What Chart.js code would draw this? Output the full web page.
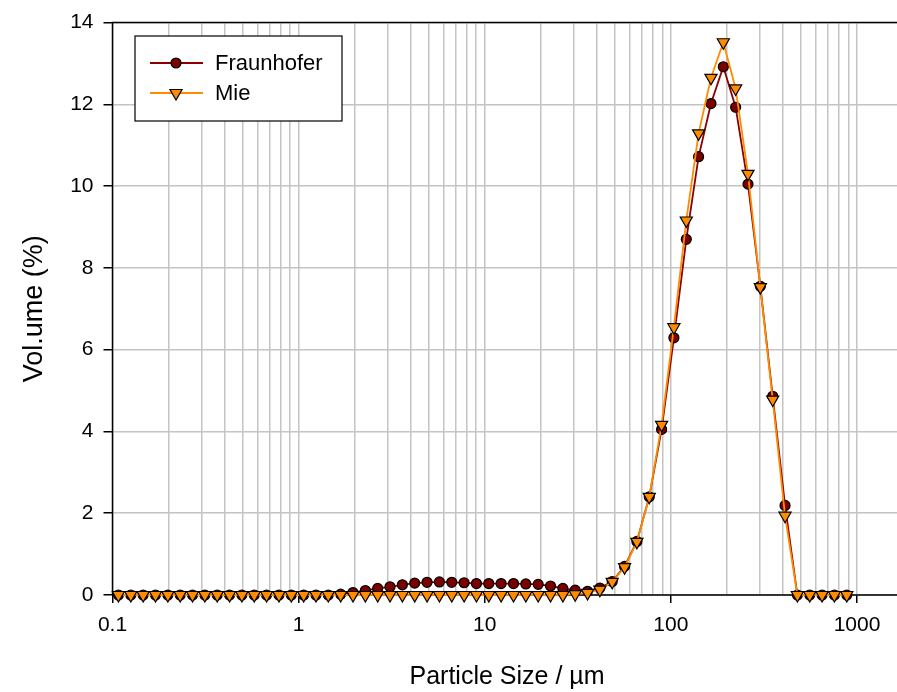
<!DOCTYPE html>
<html>
<head>
<meta charset="utf-8">
<script src="https://cdn.jsdelivr.net/npm/chart.js@4.4.0/dist/chart.umd.min.js"></script>
<style>
    body { margin: 0; background: #fff; }
    #wrap { width: 897px; height: 692px; }
</style>
</head>
<body>
<div id="wrap"><canvas id="psd" width="897" height="692"></canvas></div>
<script>
// 粒徑分佈 (µm) 與兩種光學模型的體積百分比
const sizes = [
    0.1076, 0.1254, 0.1461, 0.1702, 0.1983, 0.2310, 0.2691, 0.3134, 0.3652, 0.4254,
    0.4956, 0.5774, 0.6726, 0.7839, 0.9131, 1.064, 1.239, 1.443, 1.682, 1.959,
    2.283, 2.659, 3.097, 3.609, 4.204, 4.898, 5.706, 6.647, 7.745, 9.023,
    10.51, 12.24, 14.27, 16.62, 19.36, 22.56, 26.28, 30.61, 35.66, 41.54,
    48.39, 56.38, 65.68, 76.53, 89.15, 103.8, 121.0, 140.9, 164.2, 191.3,
    222.8, 259.6, 302.4, 352.4, 410.5, 478.2, 557.1, 649.0, 756.2, 881.0
];
const fraunhofer = [
    0, 0, 0, 0, 0, 0, 0, 0, 0, 0,
    0, 0, 0, 0, 0, 0, 0, 0, 0.02, 0.06,
    0.11, 0.16, 0.20, 0.25, 0.29, 0.31, 0.32, 0.31, 0.30, 0.28,
    0.28, 0.28, 0.28, 0.27, 0.26, 0.22, 0.16, 0.12, 0.09, 0.17,
    0.33, 0.70, 1.31, 2.40, 4.05, 6.29, 8.70, 10.72, 12.02, 12.92,
    11.93, 10.05, 7.55, 4.86, 2.19, 0, 0, 0, 0, 0
];
const mie = [
    0, 0, 0, 0, 0, 0, 0, 0, 0, 0,
    0, 0, 0, 0, 0, 0, 0, 0, 0, 0,
    0, 0, 0, 0, 0, 0, 0, 0, 0, 0,
    0, 0, 0, 0, 0, 0, 0, 0.02, 0.05, 0.13,
    0.32, 0.68, 1.30, 2.40, 4.16, 6.55, 9.16, 11.29, 12.65, 13.52,
    12.39, 10.30, 7.53, 4.78, 1.94, 0, 0, 0, 0, 0
];

// 軸刻度
const decadeTicks = [0.1, 1, 10, 100, 1000];
const xGridTicks = [
    0.1, 0.2, 0.3, 0.4, 0.5, 0.6, 0.7, 0.8, 0.9,
    1, 2, 3, 4, 5, 6, 7, 8, 9,
    10, 20, 30, 40, 50, 60, 70, 80, 90,
    100, 200, 300, 400, 500, 600, 700, 800, 900,
    1000
];
const yTicks = [0, 2, 4, 6, 8, 10, 12, 14];

const FONT = '"Liberation Sans", Arial, sans-serif';

function toPoints(values) {
    return sizes.map((s, i) => ({ x: s, y: values[i] }));
}

function isDecade(v) {
    return decadeTicks.some(d => Math.abs(d - v) < 1e-9);
}

// 圖框、軸標題、圖例
const framePlugin = {
    id: 'frame',
    beforeDatasetsDraw(chart) {
        const { ctx, chartArea: a } = chart;
        ctx.save();
        ctx.strokeStyle = '#000';
        ctx.lineWidth = 1.5;
        ctx.beginPath();
        ctx.moveTo(a.right, a.top);
        ctx.lineTo(a.left, a.top);
        ctx.lineTo(a.left, a.bottom);
        ctx.lineTo(a.right, a.bottom);
        ctx.stroke();
        ctx.restore();
    },
    afterDraw(chart) {
        const { ctx, chartArea: a } = chart;
        ctx.save();
        ctx.fillStyle = '#000';
        ctx.textAlign = 'center';
        ctx.textBaseline = 'middle';
        ctx.font = '25px ' + FONT;
        ctx.fillText('Particle Size / \u00b5m', 507, 677);

        ctx.font = '27px ' + FONT;
        ctx.translate(35, (a.top + a.bottom) / 2);
        ctx.rotate(-Math.PI / 2);
        ctx.fillText('Vol.ume (%)', 0, 0);
        ctx.restore();

        // 圖例
        ctx.save();
        const bx = 135, by = 36, bw = 207, bh = 85;
        ctx.fillStyle = '#fff';
        ctx.fillRect(bx, by, bw, bh);
        ctx.strokeStyle = '#000';
        ctx.lineWidth = 1.2;
        ctx.strokeRect(bx, by, bw, bh);

        ctx.font = '22px ' + FONT;
        ctx.textAlign = 'left';
        ctx.textBaseline = 'middle';
        chart.data.datasets.forEach((ds, i) => {
            const y = 63 + i * 30;
            ctx.strokeStyle = ds.borderColor;
            ctx.lineWidth = ds.borderWidth;
            ctx.beginPath();
            ctx.moveTo(150, y);
            ctx.lineTo(203, y);
            ctx.stroke();

            ctx.fillStyle = ds.pointBackgroundColor;
            ctx.strokeStyle = '#000';
            ctx.lineWidth = 1.2;
            ctx.beginPath();
            if (ds.pointStyle === 'circle') {
                ctx.arc(176, y, ds.pointRadius, 0, Math.PI * 2);
            } else {
                const r = ds.pointRadius;
                ctx.moveTo(176, y + r);
                ctx.lineTo(176 - r * 0.866, y - r / 2);
                ctx.lineTo(176 + r * 0.866, y - r / 2);
                ctx.closePath();
            }
            ctx.fill();
            ctx.stroke();

            ctx.fillStyle = '#000';
            ctx.fillText(ds.label, 215, y + 1);
        });
        ctx.restore();
    }
};

new Chart(document.getElementById('psd'), {
    type: 'line',
    data: {
        datasets: [{
            label: 'Fraunhofer',
            data: toPoints(fraunhofer),
            borderColor: '#8b0000',
            borderWidth: 1.8,
            pointStyle: 'circle',
            pointRadius: 5,
            pointBackgroundColor: '#7a0000',
            pointBorderColor: '#000',
            pointBorderWidth: 1.2,
            clip: false,
            order: 2
        }, {
            label: 'Mie',
            data: toPoints(mie),
            borderColor: '#ff8c00',
            borderWidth: 1.8,
            pointStyle: 'triangle',
            pointRotation: 180,
            pointRadius: 7,
            pointBackgroundColor: '#ff8c00',
            pointBorderColor: '#000',
            pointBorderWidth: 1.2,
            clip: false,
            order: 1
        }]
    },
    options: {
        responsive: false,
        animation: false,
        layout: { autoPadding: false, padding: { top: 20, right: 0, left: 0, bottom: 0 } },
        plugins: {
            legend: { display: false },
            tooltip: { enabled: false }
        },
        scales: {
            x: {
                type: 'logarithmic',
                min: 0.1,
                max: 1640,
                afterBuildTicks(scale) {
                    scale.ticks = xGridTicks.map(v => ({ value: v, major: isDecade(v) }));
                },
                afterFit(scale) {
                    scale.height = 97;
                    scale.paddingLeft = 0;
                    scale.paddingRight = 0;
                },
                ticks: {
                    autoSkip: false,
                    maxRotation: 0,
                    padding: 10,
                    color: '#000',
                    font: { family: FONT, size: 21 },
                    callback: (v) => isDecade(v) ? String(v) : ''
                },
                grid: {
                    color: '#c4c4c4',
                    lineWidth: 1.5,
                    tickLength: 8,
                    tickColor: (c) => (c.tick && isDecade(c.tick.value)) ? '#000' : 'rgba(0,0,0,0)',
                    tickWidth: 1.5
                },
                border: { display: false }
            },
            y: {
                type: 'linear',
                min: 0,
                max: 14,
                afterBuildTicks(scale) {
                    scale.ticks = yTicks.map(v => ({ value: v }));
                },
                afterFit(scale) {
                    scale.width = 112.5;
                },
                ticks: {
                    padding: 10,
                    color: '#000',
                    font: { family: FONT, size: 21 }
                },
                grid: {
                    color: '#c4c4c4',
                    lineWidth: 1.5,
                    tickLength: 9,
                    tickColor: '#000',
                    tickWidth: 1.5
                },
                border: { display: false }
            }
        }
    },
    plugins: [framePlugin]
});
</script>
</body>
</html>
